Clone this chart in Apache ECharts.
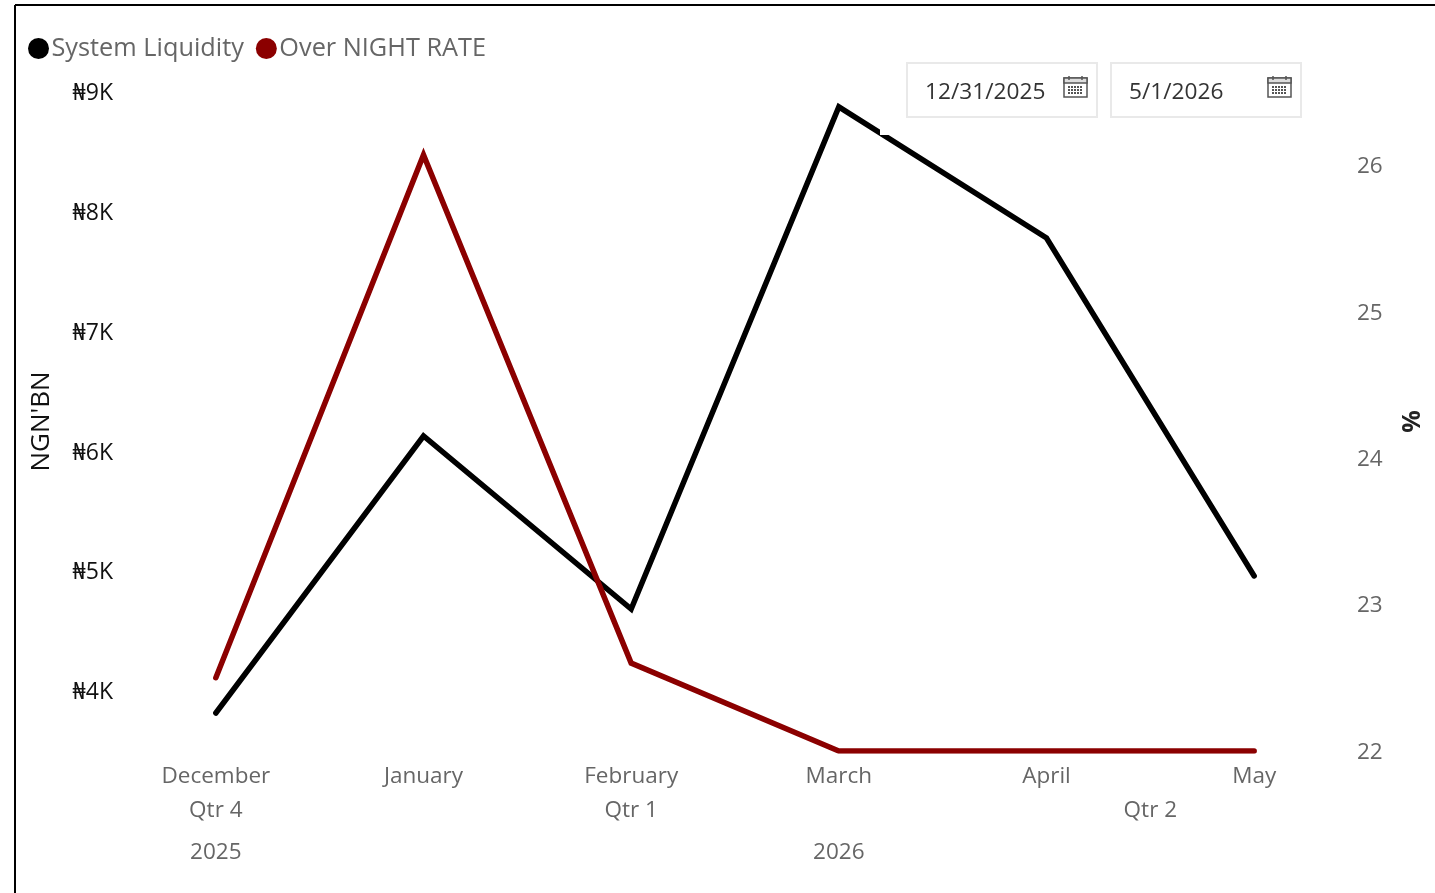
<!DOCTYPE html>
<html><head><meta charset="utf-8">
<style>html,body{margin:0;padding:0;background:#fff;overflow:hidden}#c{width:1435px;height:893px}</style>
<script src="https://cdn.jsdelivr.net/npm/echarts@6/dist/echarts.min.js"></script>
</head><body><div id="c"></div>
<script>
const months = ['December','January','February','March','April','May'];
const quarterLabels = ['','Qtr 4','','','','Qtr 1','','','','','Qtr 2','',''];
const yearLabels = ['2025','','','2026','',''];
const liquidity = [3817,6129,4685,8876,7782,4961];
const overnightRate = [22.50,26.07,22.60,22,22,22];
const leftTicks = [4000,5000,6000,7000,8000,9000];
const startDate = '12/31/2025';
const endDate = '5/1/2026';
const FONT = '"Open Sans","Noto Sans",sans-serif';

function calendar(x,y){
  const col='#555', kids=[
    {type:'rect',shape:{x:x,y:y+2,width:23,height:19},style:{fill:'#fff',stroke:col,lineWidth:1.5}},
    {type:'rect',shape:{x:x,y:y+2,width:23,height:5},style:{fill:'#ddd',stroke:col,lineWidth:1.5}},
    {type:'line',shape:{x1:x+5,y1:y,x2:x+5,y2:y+4},style:{stroke:col,lineWidth:1.5}},
    {type:'line',shape:{x1:x+18,y1:y,x2:x+18,y2:y+4},style:{stroke:col,lineWidth:1.5}}];
  for(let r=0;r<3;r++)for(let c=0;c<5;c++)
    kids.push({type:'rect',shape:{x:x+4+c*3,y:y+10+r*3,width:2,height:2},style:{fill:col}});
  return kids;
}
function slicer(x,w,text){
  return [
    {type:'rect',shape:{x:x,y:63,width:w,height:54},style:{fill:'#fff',stroke:'#e9e9e9',lineWidth:2}},
    {type:'text',x:x+18,y:93,style:{text:text,font:'22.7px '+FONT,fill:'#333',verticalAlign:'middle'}},
    ...calendar(x+w-33,76)
  ];
}
const chart = echarts.init(document.getElementById('c'));
const hiddenAxis = {axisLine:{show:false},axisTick:{show:false},splitLine:{show:false}};
const xLabel = {interval:0,fontSize:22.5,color:'#666',margin:14,fontFamily:FONT};
chart.setOption({
  animation:false,
  textStyle:{fontFamily:FONT},
  legend:{left:23,top:31,icon:'circle',itemWidth:22,itemHeight:21,itemGap:12,
    textStyle:{fontSize:25.3,color:'#666',padding:[0,0,0,-3],fontFamily:FONT},
    data:['System Liquidity','Over NIGHT RATE']},
  grid:{left:112,right:77,top:92,bottom:142,containLabel:false},
  xAxis:[
    {type:'category',data:months,position:'bottom',...hiddenAxis,axisLabel:xLabel},
    {type:'category',data:quarterLabels,boundaryGap:false,position:'bottom',offset:34,...hiddenAxis,axisLabel:xLabel},
    {type:'category',data:yearLabels,position:'bottom',offset:76,...hiddenAxis,axisLabel:xLabel}
  ],
  yAxis:[
    {type:'value',min:3500,max:9000,position:'left',...hiddenAxis,
      name:"NGN'BN",nameLocation:'middle',nameGap:57,nameRotate:90,
      nameTextStyle:{fontSize:26,color:'#111',fontFamily:FONT},
      axisLabel:{customValues:leftTicks,margin:-1,fontSize:23,color:'#111',verticalAlign:'top',padding:[-10,0,0,0],fontFamily:FONT,
        formatter:v=>'₦'+(v/1000)+'K'}},
    {type:'value',min:22,max:26.5,interval:1,position:'right',...hiddenAxis,
      name:'%',nameLocation:'middle',nameGap:42,nameRotate:90,
      nameTextStyle:{fontSize:25,color:'#222',fontWeight:'bold',fontFamily:FONT},
      axisLabel:{showMaxLabel:false,margin:-1,fontSize:22.5,color:'#666',verticalAlign:'top',padding:[-10,0,0,0],fontFamily:FONT}}
  ],
  series:[
    {name:'System Liquidity',type:'line',xAxisIndex:0,yAxisIndex:0,data:liquidity,symbol:'none',
      itemStyle:{color:'#000'},lineStyle:{color:'#000',width:5.5,cap:'round',join:'miter'}},
    {name:'Over NIGHT RATE',type:'line',xAxisIndex:0,yAxisIndex:1,data:overnightRate,symbol:'none',
      itemStyle:{color:'#8b0000'},lineStyle:{color:'#8b0000',width:5.5,cap:'round',join:'miter'}}
  ],
  graphic:{elements:[
    {type:'line',shape:{x1:15,y1:5,x2:1435,y2:5},style:{stroke:'#000',lineWidth:2}},
    {type:'line',shape:{x1:15,y1:5,x2:15,y2:893},style:{stroke:'#000',lineWidth:2}},
    {type:'rect',z:100,shape:{x:880,y:127,width:10,height:8},style:{fill:'#fff'}},
    ...slicer(907,190,startDate),
    ...slicer(1111,190,endDate)
  ]}
});
</script></body></html>
